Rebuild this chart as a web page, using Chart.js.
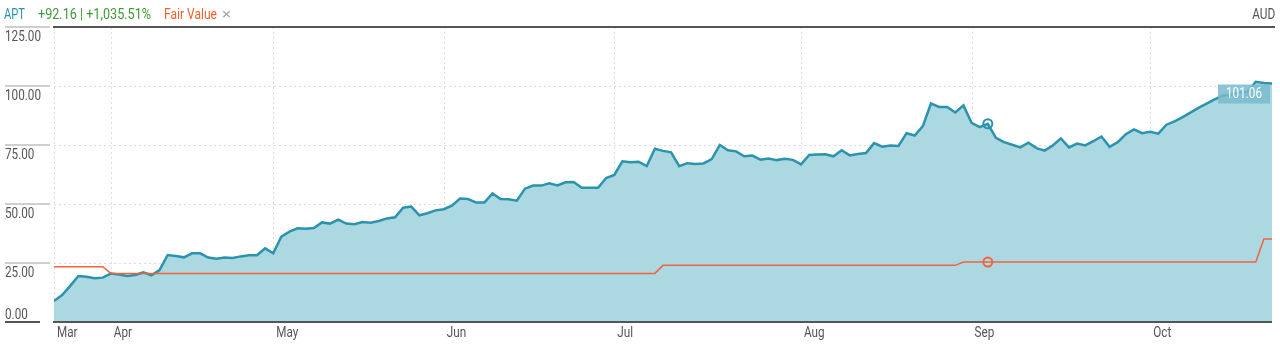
<!DOCTYPE html>
<html>
<head>
<meta charset="utf-8">
<script src="https://cdn.jsdelivr.net/npm/chart.js@4/dist/chart.umd.min.js"></script>
<style>
  body { margin: 0; background: #fff; }
  #wrap { position: relative; width: 1280px; height: 346px; }
  #head { position: absolute; left: 0; top: 0; width: 1280px; height: 24px;
          font: 15px Roboto, sans-serif; line-height: 15px; }
  #head span { position: absolute; top: 7px; white-space: nowrap; transform-origin: 0 0; }
  #head span.r { transform-origin: 100% 0; }
  canvas { position: absolute; left: 0; top: 0; }
</style>
</head>
<body>
<div id="wrap">
  <canvas id="chart" width="1280" height="346"></canvas>
  <div id="head">
    <span data-w="21" style="left:4px;color:#2b93ad">APT</span>
    <span data-w="113" style="left:38px;color:#3d9b35">+92.16 | +1,035.51%</span>
    <span data-w="53" style="left:164px;color:#f0602f">Fair Value</span>
    <span data-w="9" style="left:222px;color:#aaa">&times;</span>
    <span data-w="23" class="r" style="right:5px;color:#555">AUD</span>
  </div>
</div>
<script>
// trading days from 23 Mar to 22 Oct
const price = [
  8.9, 11.4, 15.3, 19.5, 19.2, 18.5, 18.8, 20.5, 20.1, 19.5,
  19.9, 21.0, 19.8, 22.0, 28.4, 28.0, 27.4, 29.1, 29.1, 27.3,
  26.8, 27.3, 27.1, 27.8, 28.3, 28.3, 31.2, 29.1, 36.2, 38.3,
  39.7, 39.5, 39.8, 42.2, 41.7, 43.4, 41.7, 41.4, 42.4, 42.1,
  42.8, 43.9, 44.4, 48.4, 48.9, 45.2, 46.1, 47.3, 47.8, 49.3,
  52.3, 52.1, 50.6, 50.6, 54.5, 52.1, 52.0, 51.4, 56.5, 57.8,
  57.8, 58.8, 57.9, 59.2, 59.3, 56.9, 56.9, 56.9, 61.0, 62.3,
  68.1, 67.7, 67.9, 66.1, 73.4, 72.5, 71.9, 66.0, 67.3, 67.0,
  67.2, 69.0, 75.0, 72.8, 72.3, 70.2, 70.5, 68.8, 69.3, 68.6,
  69.2, 68.7, 66.8, 70.8, 71.0, 71.1, 70.2, 72.8, 70.6, 71.2,
  71.6, 75.8, 74.3, 74.8, 74.6, 80.0, 79.0, 83.0, 92.6, 91.1,
  91.1, 88.8, 91.8, 84.4, 82.6, 84.0, 78.0, 76.2, 75.1, 74.0,
  76.0, 73.7, 72.6, 74.8, 77.8, 74.0, 75.6, 74.8, 76.6, 78.6,
  74.2, 76.2, 79.6, 81.6, 80.0, 80.6, 79.8, 83.6, 85.0, 86.8,
  88.8, 90.8, 92.6, 94.4, 96.0, 96.4, 97.2, 97.6, 101.8, 101.3,
  101.06
];
const fairValue = [];
for (let i = 0; i < price.length; i++) {
  fairValue.push(i < 7 ? 23.4 : i < 75 ? 20.6 : i < 112 ? 24.0 : i < 149 ? 25.4 : 35.2);
}
const monthLabels = ['Mar', 'Apr', 'May', 'Jun', 'Jul', 'Aug', 'Sep', 'Oct'];
const monthIndex = [0, 7, 27, 48, 69, 92, 113, 135];
const yTicks = [0, 25, 50, 75, 100, 125];
const markIndex = 115;
const lastLabel = '101.06';

const BLUE = '#2b93ad', FILL = '#acd8e1', ORANGE = '#f0643c';
const FONT = '15px Roboto, sans-serif';

// squeeze header text to the condensed widths of the original
document.querySelectorAll('#head span').forEach(s => {
  const w = s.getBoundingClientRect().width;
  s.style.transform = 'scaleX(' + (s.dataset.w / w) + ')';
});

// condensed text on the canvas
function cText(ctx, str, x, y, sx) {
  ctx.save();
  ctx.translate(x, y);
  ctx.scale(sx, 1);
  ctx.fillText(str, 0, 0);
  ctx.restore();
}

const frame = {
  id: 'frame',
  beforeDatasetsDraw(chart) {
    const { ctx, chartArea: a, scales: { x, y } } = chart;
    ctx.save();
    ctx.strokeStyle = '#dcdcdc';
    ctx.lineWidth = 1;
    ctx.setLineDash([2, 3]);
    yTicks.forEach(t => {
      if (t === 0 || t === 125) return;
      const py = Math.round(y.getPixelForValue(t)) + 0.5;
      ctx.beginPath(); ctx.moveTo(a.left, py); ctx.lineTo(a.right, py); ctx.stroke();
    });
    monthIndex.forEach(m => {
      const px = Math.round(x.getPixelForValue(m)) + 0.5;
      ctx.beginPath(); ctx.moveTo(px, a.top); ctx.lineTo(px, a.bottom); ctx.stroke();
    });
    ctx.setLineDash([]);
    ctx.font = FONT;
    ctx.fillStyle = '#555';
    ctx.textAlign = 'left';
    ctx.textBaseline = 'middle';
    const sx = 36 / ctx.measureText('125.00').width;
    yTicks.forEach(t => {
      const py = Math.round(y.getPixelForValue(t));
      ctx.lineWidth = 2;
      ctx.strokeStyle = t === 0 ? '#555' : '#cfcfcf';
      ctx.beginPath(); ctx.moveTo(5, py); ctx.lineTo(t === 0 ? 40 : 50, py); ctx.stroke();
      cText(ctx, t.toFixed(2), 5, t === 0 ? py - 7 : py + 10.5, sx);
    });
    monthIndex.forEach((m, i) => {
      cText(ctx, monthLabels[i], x.getPixelForValue(m) + 3, a.bottom + 11, sx);
    });
    ctx.restore();
  },
  afterDatasetsDraw(chart) {
    const { ctx, chartArea: a, scales: { x, y } } = chart;
    ctx.save();
    ctx.lineWidth = 2;
    ctx.strokeStyle = '#555';
    ctx.beginPath(); ctx.moveTo(a.left - 1, a.top); ctx.lineTo(a.right + 3, a.top); ctx.stroke();
    ctx.beginPath(); ctx.moveTo(a.left - 1, a.bottom); ctx.lineTo(a.right, a.bottom); ctx.stroke();
    // last price tag
    const n = price.length - 1;
    const px = x.getPixelForValue(n), py = y.getPixelForValue(price[n]);
    ctx.fillStyle = 'rgba(120,188,204,0.85)';
    ctx.fillRect(px - 54, py + 1, 52, 19);
    ctx.fillStyle = '#fff';
    ctx.font = FONT;
    ctx.textAlign = 'center';
    ctx.textBaseline = 'middle';
    cText(ctx, lastLabel, px - 28, py + 11, 36 / ctx.measureText(lastLabel).width);
    ctx.restore();
  }
};

new Chart(document.getElementById('chart'), {
  type: 'line',
  data: {
    datasets: [{
      label: 'Fair Value',
      data: fairValue.map((v, i) => ({ x: i, y: v })),
      borderColor: ORANGE,
      borderWidth: 1.5,
      fill: false,
      pointRadius: c => c.dataIndex === markIndex ? 4.5 : 0,
      pointBorderWidth: 2,
      pointBorderColor: ORANGE,
      pointBackgroundColor: 'rgba(0,0,0,0)',
      tension: 0
    }, {
      label: 'APT',
      data: price.map((v, i) => ({ x: i, y: v })),
      borderColor: BLUE,
      borderWidth: 2.5,
      backgroundColor: FILL,
      fill: 'origin',
      pointRadius: c => c.dataIndex === markIndex ? 4.5 : 0,
      pointBorderWidth: 2,
      pointBorderColor: BLUE,
      pointBackgroundColor: 'rgba(0,0,0,0)',
      tension: 0
    }]
  },
  options: {
    responsive: false,
    animation: false,
    layout: { padding: { left: 54, top: 27, right: 8, bottom: 24 } },
    plugins: { legend: { display: false }, tooltip: { enabled: false } },
    scales: {
      x: { type: 'linear', display: false, min: 0, max: price.length - 1 },
      y: { display: false, min: 0, max: 125 }
    }
  },
  plugins: [frame]
});
</script>
</body>
</html>
